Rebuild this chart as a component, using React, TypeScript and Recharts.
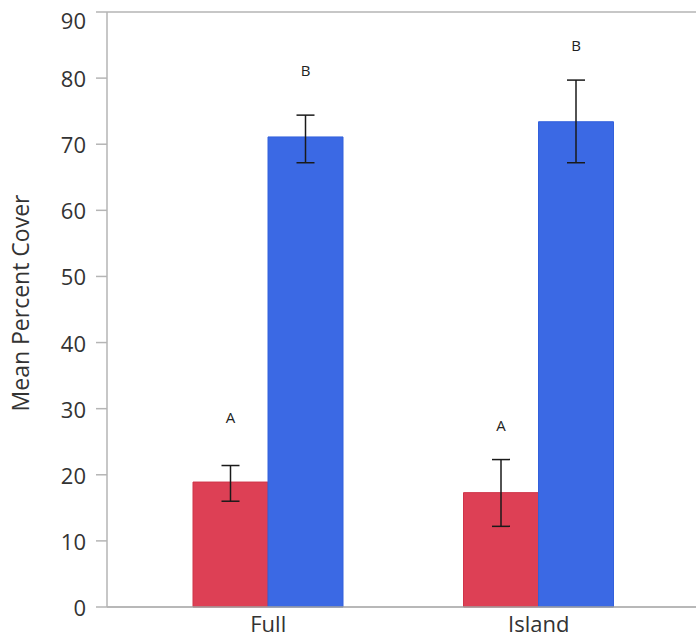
import React from 'react';
import { BarChart, Bar, XAxis, YAxis, ErrorBar, LabelList, ReferenceLine } from 'recharts';

const categories = ['Full', 'Island'];
const redValues = [18.9, 17.3];
const redLow = [16.0, 12.2];
const redHigh = [21.4, 22.3];
const blueValues = [71.1, 73.4];
const blueLow = [67.2, 67.2];
const blueHigh = [74.4, 79.7];
const redLetters = ['A', 'A'];
const redLetterAt = [28.8, 27.6];
const blueLetters = ['B', 'B'];
const blueLetterAt = [81.2, 85.0];
const yTicks = [0, 10, 20, 30, 40, 50, 60, 70, 80, 90];

const RED = '#dd4055';
const BLUE = '#3b69e4';
const FONT = '"Open Sans", "Noto Sans", sans-serif';

const data = categories.map((c, i) => ({
  name: c,
  red: redValues[i],
  redErr: [redValues[i] - redLow[i], redHigh[i] - redValues[i]],
  blue: blueValues[i],
  blueErr: [blueValues[i] - blueLow[i], blueHigh[i] - blueValues[i]],
}));

// letter sits at a given value above the bar, scaled from the bar's own px/unit
const letterLabel = (values: number[], letters: string[], at: number[]) => (props: any) => {
  const { x, y, width, height, index } = props;
  const bottom = y + height;
  const ppu = height / values[index];
  const ly = bottom - at[index] * ppu;
  return (
    <text x={x + width / 2} y={ly} textAnchor="middle" dominantBaseline="central"
      fontSize={15} fontFamily={FONT} fill="#222">
      {letters[index]}
    </text>
  );
};

// top tick label is nudged down so it stays inside the picture
const YTick = (props: any) => {
  const { x, y, payload } = props;
  const top = payload.value === yTicks[yTicks.length - 1];
  return (
    <text x={x} y={top ? y + 8 : y} textAnchor="end" dominantBaseline="central"
      fontSize={22} fontFamily={FONT} fill="#333">
      {payload.value}
    </text>
  );
};

export default function App() {
  return (
    <div style={{ position: 'absolute', left: 0, top: 0, background: '#fff' }}>
      <BarChart width={696} height={643} data={data} barGap={0}
        margin={{ top: 12, right: 0, bottom: 0, left: 0 }}>
        <ReferenceLine y={90} stroke="#b5b5b5" strokeWidth={1.5} />
        <XAxis dataKey="name" height={36} tickLine={false} padding={{ left: 26, right: 22 }}
          axisLine={{ stroke: '#a0a0a0', strokeWidth: 1.5 }}
          tick={{ fontSize: 22, fontFamily: FONT, fill: '#333' }} tickMargin={3} />
        <YAxis width={107} domain={[0, 90]} ticks={yTicks} interval={0}
          tickSize={11} tickMargin={10}
          axisLine={{ stroke: '#b5b5b5', strokeWidth: 1.5 }}
          tickLine={{ stroke: '#b5b5b5', strokeWidth: 1.5 }}
          tick={<YTick />}
          label={{
            content: () => (
              <text x={20} y={303} transform="rotate(-90 20 303)" textAnchor="middle"
                dominantBaseline="central" fontSize={23} fontFamily={FONT} fill="#333">
                Mean Percent Cover
              </text>
            ),
          }} />
        <Bar dataKey="red" fill={RED} stroke="#cf3449" strokeWidth={1} barSize={75} isAnimationActive={false}>
          <ErrorBar dataKey="redErr" width={9} stroke="#1a1a1a" strokeWidth={1.5} />
          <LabelList dataKey="red" content={letterLabel(redValues, redLetters, redLetterAt)} />
        </Bar>
        <Bar dataKey="blue" fill={BLUE} stroke="#3260dc" strokeWidth={1} barSize={75} isAnimationActive={false}>
          <ErrorBar dataKey="blueErr" width={9} stroke="#1a1a1a" strokeWidth={1.5} />
          <LabelList dataKey="blue" content={letterLabel(blueValues, blueLetters, blueLetterAt)} />
        </Bar>
      </BarChart>
    </div>
  );
}
